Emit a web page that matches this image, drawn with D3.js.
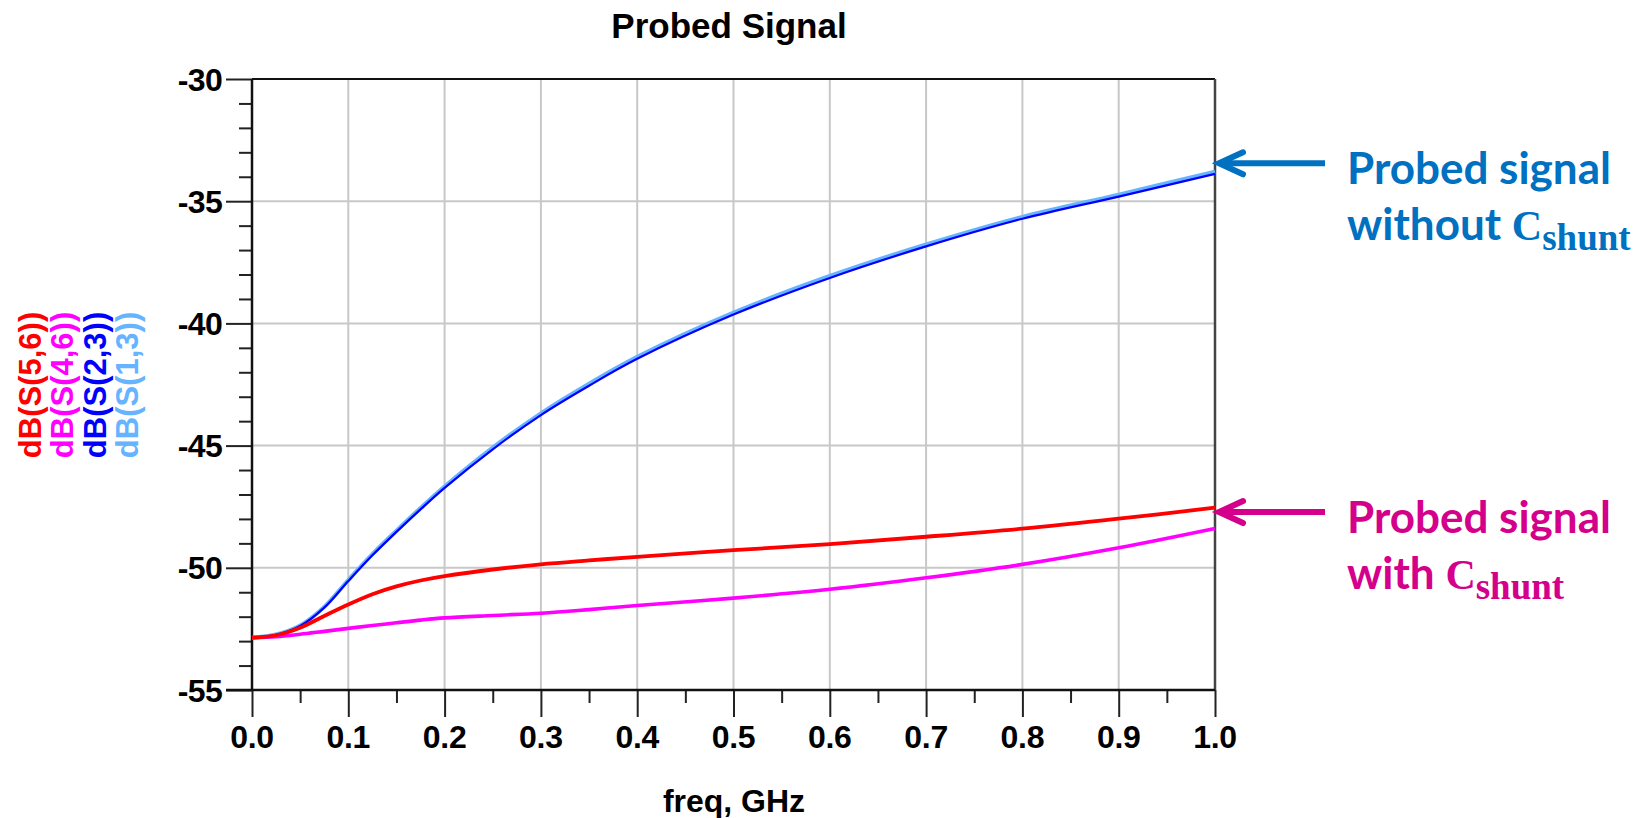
<!DOCTYPE html>
<html><head><meta charset="utf-8">
<script src="https://cdn.jsdelivr.net/npm/d3@7"></script>
<style>
html,body{margin:0;padding:0;background:#fff;}
svg{display:block;}
</style></head>
<body>
<svg id="chart" width="1649" height="818"></svg>
<script>
// ---------- data ----------
const freq = [0, 0.025, 0.05, 0.075, 0.1, 0.125, 0.15, 0.175, 0.2, 0.25, 0.3, 0.35, 0.4, 0.5, 0.6, 0.7, 0.8, 0.9, 1.0];
const s56 = [-52.86, -52.76, -52.45, -51.97, -51.50, -51.08, -50.76, -50.52, -50.34, -50.07, -49.86, -49.70, -49.55, -49.28, -49.03, -48.73, -48.40, -47.99, -47.54];
const s46 = [-52.86, -52.82, -52.72, -52.60, -52.48, -52.36, -52.25, -52.14, -52.05, -51.95, -51.86, -51.71, -51.54, -51.24, -50.88, -50.41, -49.86, -49.18, -48.39];
const s23 = [-52.86, -52.74, -52.38, -51.63, -50.54, -49.49, -48.53, -47.61, -46.73, -45.15, -43.75, -42.55, -41.45, -39.64, -38.14, -36.85, -35.72, -34.81, -33.88];
const s13 = [-52.86, -52.73, -52.36, -51.60, -50.50, -49.44, -48.48, -47.55, -46.67, -45.08, -43.68, -42.47, -41.37, -39.56, -38.06, -36.77, -35.64, -34.73, -33.79];
const seriesNames = ["dB(S(5,6))", "dB(S(4,6))", "dB(S(2,3))", "dB(S(1,3))"];
const seriesColors = ["#ff0000", "#ff00ff", "#0000ff", "#66b3ff"];
const xTicks = [0.0, 0.1, 0.2, 0.3, 0.4, 0.5, 0.6, 0.7, 0.8, 0.9, 1.0];
const yTicks = [-30, -35, -40, -45, -50, -55];
const titleText = "Probed Signal";
const xLabel = "freq, GHz";
// annotations: anchor dB value at right edge, text lines
const annoY = [-33.45, -47.72];
const annoLine1 = ["Probed signal", "Probed signal"];
const annoLine2 = ["without ", "with "];
const annoColors = ["#0070c0", "#d4008c"];

// ---------- layout ----------
const svg = d3.select("#chart");
const L = 252, R = 1215, T = 79, B = 690;
const x = d3.scaleLinear().domain([0, 1]).range([L, R]);
const y = d3.scaleLinear().domain([-55, -30]).range([B, T]);
const FONT = "'Liberation Sans', Arial, Helvetica, sans-serif";

// grid
const grid = svg.append("g");
grid.selectAll("line.vg").data(xTicks.slice(1, -1)).join("line")
  .attr("x1", d => x(d)).attr("x2", d => x(d)).attr("y1", T).attr("y2", B)
  .attr("stroke", "#c8c8c8").attr("stroke-width", 2);
grid.selectAll("line.hg").data(yTicks.slice(1, -1)).join("line")
  .attr("x1", L).attr("x2", R).attr("y1", d => y(d)).attr("y2", d => y(d))
  .attr("stroke", "#c8c8c8").attr("stroke-width", 2);

// frame top/right
svg.append("line").attr("x1", L).attr("x2", R).attr("y1", T).attr("y2", T).attr("stroke", "#111").attr("stroke-width", 2);
svg.append("line").attr("x1", R).attr("x2", R).attr("y1", T).attr("y2", B).attr("stroke", "#444").attr("stroke-width", 2.5);

// axes
const yMinor = d3.range(-55, -29, 1).filter(v => v % 5 !== 0);
const yAxisMajor = d3.axisLeft(y).tickValues(yTicks).tickSize(26).tickFormat("");
const yAxisMinor = d3.axisLeft(y).tickValues(yMinor).tickSize(13).tickFormat("");
const xMinor = d3.range(0.05, 1, 0.1);
const xAxisMajor = d3.axisBottom(x).tickValues(xTicks).tickSize(27).tickFormat("");
const xAxisMinor = d3.axisBottom(x).tickValues(xMinor).tickSize(13).tickFormat("");

function styleAxis(g) {
  g.select(".domain").remove();
  g.selectAll(".tick line").attr("stroke", "#222").attr("stroke-width", 2);
}
svg.append("g").attr("transform", `translate(${L},0)`).call(yAxisMajor).call(styleAxis);
svg.append("g").attr("transform", `translate(${L},0)`).call(yAxisMinor).call(styleAxis);
svg.append("g").attr("transform", `translate(0,${B})`).call(xAxisMajor).call(styleAxis);
svg.append("g").attr("transform", `translate(0,${B})`).call(xAxisMinor).call(styleAxis);

// axis lines
svg.append("line").attr("x1", L).attr("x2", L).attr("y1", T).attr("y2", B).attr("stroke", "#111").attr("stroke-width", 2.5);
svg.append("line").attr("x1", L - 26).attr("x2", R).attr("y1", B).attr("y2", B).attr("stroke", "#111").attr("stroke-width", 2.5);

// tick labels
svg.append("g").selectAll("text").data(yTicks).join("text")
  .attr("x", 222).attr("y", d => y(d)).attr("dy", "0.36em")
  .attr("text-anchor", "end").attr("font-family", FONT).attr("font-weight", "bold")
  .attr("font-size", 32).attr("letter-spacing", -0.7).attr("fill", "#000").text(d => String(d));
svg.append("g").selectAll("text").data(xTicks).join("text")
  .attr("x", d => x(d)).attr("y", 748)
  .attr("text-anchor", "middle").attr("font-family", FONT).attr("font-weight", "bold")
  .attr("font-size", 32).attr("letter-spacing", -0.3).attr("fill", "#000").text(d => d.toFixed(1));

// title & x label
svg.append("text").attr("x", 729).attr("y", 38).attr("text-anchor", "middle")
  .attr("font-family", FONT).attr("font-weight", "bold").attr("font-size", 35).text(titleText);
svg.append("text").attr("x", 734).attr("y", 812).attr("text-anchor", "middle")
  .attr("font-family", FONT).attr("font-weight", "bold").attr("font-size", 32).text(xLabel);

// y labels (rotated)
const ylabX = [40.5, 73, 105.5, 138];
seriesNames.forEach((n, i) => {
  svg.append("text").attr("transform", `translate(${ylabX[i]},385) rotate(-90)`)
    .attr("text-anchor", "middle").attr("font-family", FONT).attr("font-weight", "bold")
    .attr("font-size", 31).attr("fill", seriesColors[i]).text(n);
});

// curves
const line = d3.line().x(d => x(d[0])).y(d => y(d[1])).curve(d3.curveCatmullRom.alpha(0.5));
const zipS = arr => freq.map((f, i) => [f, arr[i]]);
const plot = svg.append("g");
plot.append("path").datum(zipS(s13)).attr("d", line).attr("fill", "none").attr("stroke", seriesColors[3]).attr("stroke-width", 4);
plot.append("path").datum(zipS(s23)).attr("d", line).attr("fill", "none").attr("stroke", seriesColors[2]).attr("stroke-width", 2.2);
plot.append("path").datum(zipS(s46)).attr("d", line).attr("fill", "none").attr("stroke", seriesColors[1]).attr("stroke-width", 3.6);
plot.append("path").datum(zipS(s56)).attr("d", line).attr("fill", "none").attr("stroke", seriesColors[0]).attr("stroke-width", 3.8);

// annotations
const ANNO_FONT = "Lato, 'Open Sans', sans-serif";
const SERIF = "'Liberation Serif', 'DejaVu Serif', serif";
annoY.forEach((v, i) => {
  const c = annoColors[i];
  const tx = x(1) + 4, ty = y(v);
  const g = svg.append("g");
  g.append("line").attr("x1", tx + 4).attr("x2", tx + 106).attr("y1", ty).attr("y2", ty)
    .attr("stroke", c).attr("stroke-width", 6);
  g.append("path").attr("d", `M${tx + 24},${ty - 11} L${tx},${ty} L${tx + 24},${ty + 11}`)
    .attr("fill", "none").attr("stroke", c).attr("stroke-width", 6)
    .attr("stroke-linecap", "round").attr("stroke-linejoin", "miter");
  g.append("text").attr("x", tx + 128).attr("y", ty + 21)
    .attr("font-family", ANNO_FONT).attr("font-weight", "bold").attr("font-size", 44).attr("fill", c)
    .text(annoLine1[i]);
  const t2 = g.append("text").attr("x", tx + 128).attr("y", ty + 77)
    .attr("font-family", ANNO_FONT).attr("font-weight", "bold").attr("font-size", 44).attr("fill", c);
  t2.append("tspan").text(annoLine2[i]);
  t2.append("tspan").attr("font-family", SERIF).attr("font-size", 42).text("C");
  t2.append("tspan").attr("font-family", SERIF).attr("font-size", 37)
    .attr("dy", 10).text("shunt");
});
</script>
</body></html>
